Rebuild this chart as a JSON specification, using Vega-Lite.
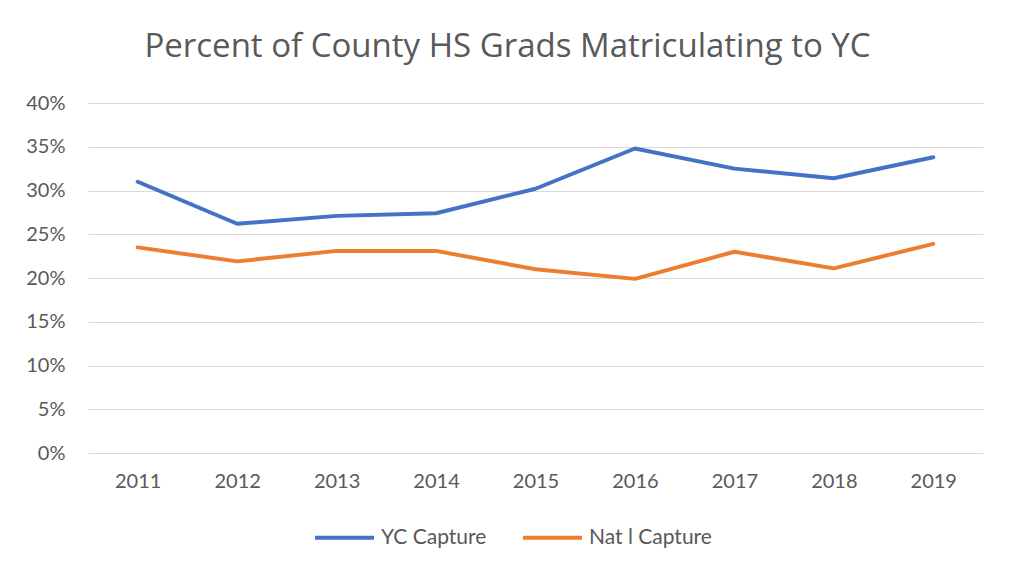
{
  "$schema": "https://vega.github.io/schema/vega-lite/v6.json",
  "autosize": {"type": "none"},
  "width": 895,
  "height": 350,
  "padding": {"left": 88, "top": 103, "right": 30, "bottom": 122},
  "background": "white",
  "title": {
    "text": "Percent of County HS Grads Matriculating to YC",
    "font": "Open Sans",
    "fontSize": 33,
    "fontWeight": "normal",
    "color": "#595959",
    "anchor": "middle",
    "dx": -28,
    "offset": 29
  },
  "data": {
    "values": [
      {"Year": "2011", "Series": "YC Capture", "Value": 0.310},
      {"Year": "2012", "Series": "YC Capture", "Value": 0.262},
      {"Year": "2013", "Series": "YC Capture", "Value": 0.271},
      {"Year": "2014", "Series": "YC Capture", "Value": 0.274},
      {"Year": "2015", "Series": "YC Capture", "Value": 0.302},
      {"Year": "2016", "Series": "YC Capture", "Value": 0.348},
      {"Year": "2017", "Series": "YC Capture", "Value": 0.325},
      {"Year": "2018", "Series": "YC Capture", "Value": 0.314},
      {"Year": "2019", "Series": "YC Capture", "Value": 0.338},
      {"Year": "2011", "Series": "Nat l Capture", "Value": 0.235},
      {"Year": "2012", "Series": "Nat l Capture", "Value": 0.219},
      {"Year": "2013", "Series": "Nat l Capture", "Value": 0.231},
      {"Year": "2014", "Series": "Nat l Capture", "Value": 0.231},
      {"Year": "2015", "Series": "Nat l Capture", "Value": 0.210},
      {"Year": "2016", "Series": "Nat l Capture", "Value": 0.199},
      {"Year": "2017", "Series": "Nat l Capture", "Value": 0.230},
      {"Year": "2018", "Series": "Nat l Capture", "Value": 0.211},
      {"Year": "2019", "Series": "Nat l Capture", "Value": 0.239}
    ]
  },
  "mark": {"type": "line", "strokeWidth": 4, "strokeCap": "round", "strokeJoin": "round"},
  "encoding": {
    "x": {
      "field": "Year",
      "type": "ordinal",
      "scale": {"type": "point", "padding": 0.5},
      "axis": {
        "title": null,
        "labelAngle": 0,
        "domain": false,
        "ticks": false,
        "grid": false,
        "labelPadding": 18,
        "labelFont": "Lato",
        "labelFontSize": 20,
        "labelColor": "#595959"
      }
    },
    "y": {
      "field": "Value",
      "type": "quantitative",
      "scale": {"domain": [0, 0.4], "nice": false},
      "axis": {
        "title": null,
        "format": ".0%",
        "values": [0, 0.05, 0.1, 0.15, 0.2, 0.25, 0.3, 0.35, 0.4],
        "domain": false,
        "ticks": false,
        "grid": true,
        "gridColor": "#d9d9d9",
        "gridWidth": 1,
        "labelPadding": 23,
        "labelFont": "Lato",
        "labelFontSize": 20,
        "labelColor": "#595959"
      }
    },
    "color": {
      "field": "Series",
      "type": "nominal",
      "sort": ["YC Capture", "Nat l Capture"],
      "scale": {"domain": ["YC Capture", "Nat l Capture"], "range": ["#4472C4", "#ED7D31"]},
      "legend": {
        "title": null,
        "orient": "none",
        "legendX": 225,
        "legendY": 403,
        "direction": "horizontal",
        "symbolType": "stroke",
        "symbolSize": 3481,
        "symbolStrokeWidth": 4,
        "labelFont": "Lato",
        "labelFontSize": 21,
        "labelColor": "#595959",
        "columnPadding": 28,
        "labelOffset": 5
      }
    }
  },
  "config": {"view": {"stroke": null}}
}
